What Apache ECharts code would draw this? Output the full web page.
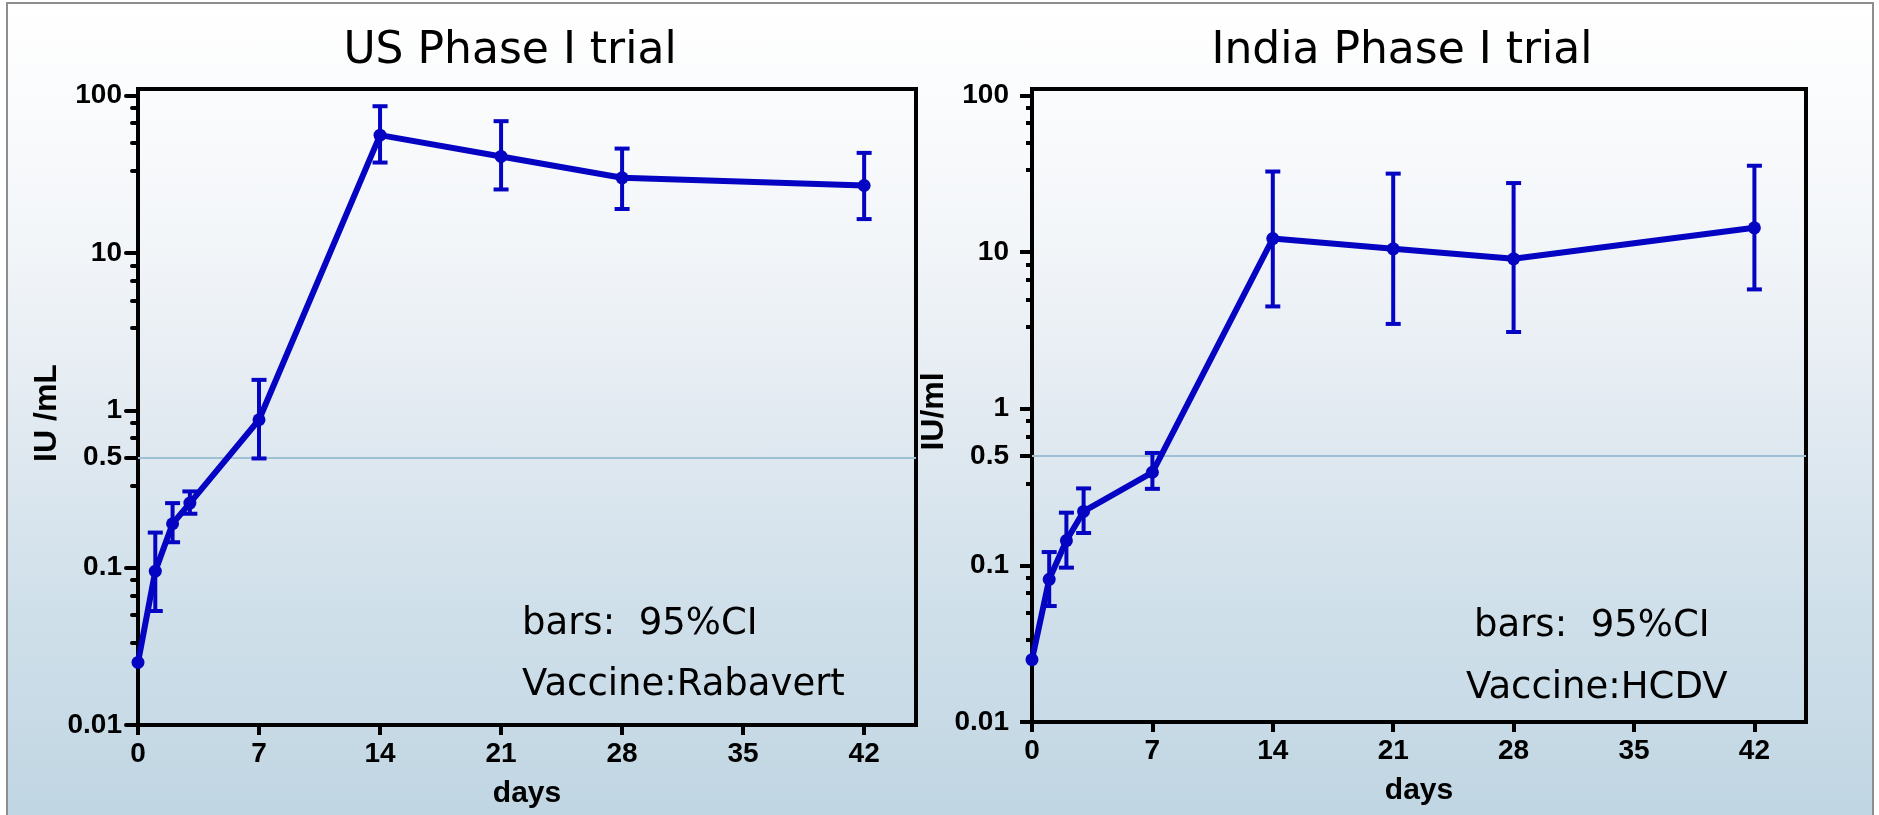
<!DOCTYPE html>
<html>
<head>
<meta charset="utf-8">
<title>Phase I trials</title>
<script src="https://cdn.jsdelivr.net/npm/echarts@6/dist/echarts.min.js"></script>
<style>
    html, body {
        margin: 0;
        padding: 0;
        background: #ffffff;
        overflow: hidden;
    }
    /* gradient panel with the thin grey frame */
    #panel {
        position: absolute;
        left: 6px;
        top: 2px;
        width: 1864px;
        height: 830px;
        border: 2px solid #8e8e8e;
        background: linear-gradient(to bottom, #ffffff 0%, #f3f6f9 28%, #e2eaf1 50%, #d0e0ea 72%, #bfd5e2 100%);
    }
    #main {
        position: absolute;
        left: 0;
        top: 0;
        width: 1879px;
        height: 815px;
    }
</style>
</head>
<body>
<div id="panel"></div>
<div id="main"></div>
<script>
    // days after first dose
    const days = [0, 1, 2, 3, 7, 14, 21, 28, 42];
    const dayTicks = [0, 7, 14, 21, 28, 35, 42];

    // US Phase I trial (Rabavert), IU/mL, geometric mean with 95% CI
    const usMean = [0.025, 0.095, 0.19, 0.257, 0.87, 56, 41, 30, 26.8];
    const usLow = [null, 0.053, 0.145, 0.22, 0.494, 37.5, 25.3, 19, 16.4];
    const usHigh = [null, 0.167, 0.257, 0.305, 1.56, 85.5, 68.7, 46, 43.2];

    // India Phase I trial (HCDV), IU/ml
    const inMean = [0.025, 0.0815, 0.144, 0.221, 0.393, 12.2, 10.5, 9.06, 14.3];
    const inLow = [null, 0.055, 0.0967, 0.161, 0.308, 4.5, 3.48, 3.09, 5.78];
    const inHigh = [null, 0.1216, 0.217, 0.31, 0.522, 32.7, 31.7, 27.6, 35.6];

    // y axis tick labels and the little ticks between them
    const majorTicks = [0.01, 0.1, 0.5, 1, 10, 100];
    const decades = [0.01, 0.1, 1, 10];
    const minorSteps = [8.333, 6.667, 5, 3.333];
    const protectiveLevel = 0.5;

    const lineColor = '#0404c2';
    const refColor = '#9fbfd5';
    const boldFont = 'Liberation Sans';
    const plainFont = 'DejaVu Sans';

    let minorTicks = [];
    decades.forEach(function (d) {
        minorSteps.forEach(function (s) {
            if (s !== 5 || d !== 0.1) minorTicks.push(+(d * s).toPrecision(4));
        });
    });

    function renderErrorBar(params, api) {
        const x = api.value(0);
        const lo = api.value(1);
        const hi = api.value(2);
        const top = api.coord([x, hi]);
        const bottom = api.coord([x, lo]);
        const w = 7.5;
        const style = {stroke: lineColor, lineWidth: 4, fill: null};
        return {
            type: 'group',
            children: [
                {type: 'line', shape: {x1: top[0], y1: top[1], x2: bottom[0], y2: bottom[1]}, style: style},
                {type: 'line', shape: {x1: top[0] - w, y1: top[1], x2: top[0] + w, y2: top[1]}, style: style},
                {type: 'line', shape: {x1: bottom[0] - w, y1: bottom[1], x2: bottom[0] + w, y2: bottom[1]}, style: style}
            ]
        };
    }

    function xAxisFor(g) {
        return {
            type: 'value',
            gridIndex: g,
            min: 0,
            max: 45,
            name: 'days',
            nameLocation: 'middle',
            nameGap: 54,
            nameTextStyle: {fontFamily: boldFont, fontWeight: 'bold', fontSize: 30, color: '#000'},
            axisLine: {show: true, onZero: false, lineStyle: {color: '#000', width: 4}},
            axisTick: {show: true, customValues: dayTicks, length: 10, lineStyle: {color: '#000', width: 4}},
            axisLabel: {
                customValues: dayTicks,
                margin: 15,
                fontFamily: boldFont,
                fontWeight: 'bold',
                fontSize: 28,
                color: '#000'
            },
            splitLine: {show: false}
        };
    }

    function yAxisFor(g, name, nameGap, margin, cap) {
        return {
            type: 'log',
            logBase: 10,
            gridIndex: g,
            position: 'left',
            min: 0.01,
            max: 110,
            name: name,
            nameLocation: 'middle',
            nameRotate: 90,
            nameGap: nameGap,
            nameTextStyle: {fontFamily: boldFont, fontWeight: 'bold', fontSize: 32, color: '#000', padding: [0, 12, 0, 0]},
            axisLine: {show: true, lineStyle: {color: '#000', width: 4}},
            axisTick: {show: true, customValues: majorTicks, length: 12, lineStyle: {color: '#000', width: 4, cap: cap}},
            axisLabel: {
                customValues: majorTicks,
                margin: margin,
                fontFamily: boldFont,
                fontWeight: 'bold',
                fontSize: 28,
                color: '#000',
                formatter: function (v) {
                    return String(Number(Number(v).toPrecision(2)));
                }
            },
            splitLine: {show: false}
        };
    }

    function minorAxisFor(g, cap) {
        return {
            type: 'log',
            logBase: 10,
            gridIndex: g,
            position: 'left',
            offset: 0,
            min: 0.01,
            max: 110,
            axisLine: {show: false},
            axisTick: {show: true, customValues: minorTicks, length: 6, lineStyle: {color: '#000', width: 4, cap: cap}},
            axisLabel: {show: false},
            splitLine: {show: false}
        };
    }

    function lineSeries(idx, mean) {
        return {
            type: 'line',
            xAxisIndex: idx,
            yAxisIndex: idx * 2,
            data: days.map(function (d, i) { return [d, mean[i]]; }),
            symbol: 'circle',
            symbolSize: 13,
            itemStyle: {color: lineColor},
            lineStyle: {color: lineColor, width: 6},
            z: 4,
            markLine: {
                silent: true,
                symbol: 'none',
                label: {show: false},
                lineStyle: {color: refColor, width: 2, type: 'solid'},
                data: [{yAxis: protectiveLevel}],
                z: 1
            }
        };
    }

    function barSeries(idx, low, high) {
        const rows = [];
        days.forEach(function (d, i) {
            if (low[i] != null) rows.push([d, low[i], high[i]]);
        });
        return {
            type: 'custom',
            xAxisIndex: idx,
            yAxisIndex: idx * 2,
            renderItem: renderErrorBar,
            encode: {x: 0, y: [1, 2]},
            data: rows,
            z: 3
        };
    }

    function label(text, x, y, size, align) {
        return {
            type: 'text',
            x: x,
            y: y,
            style: {
                text: text,
                fontFamily: plainFont,
                fontSize: size,
                fill: '#000',
                align: align,
                textAlign: align,
                verticalAlign: 'middle',
                textVerticalAlign: 'middle'
            }
        };
    }

    const chart = echarts.init(document.getElementById('main'), null, {renderer: 'canvas'});
    const option = {
        animation: false,
        backgroundColor: 'transparent',
        grid: [
            {left: 138, top: 89, width: 778, height: 636, show: true, borderColor: '#000', borderWidth: 4, backgroundColor: 'transparent'},
            {left: 1032, top: 89, width: 774, height: 633, show: true, borderColor: '#000', borderWidth: 4, backgroundColor: 'transparent'}
        ],
        xAxis: [xAxisFor(0), xAxisFor(1)],
        yAxis: [
            yAxisFor(0, 'IU /mL', 72, 16, 'round'),
            minorAxisFor(0, 'round'),
            yAxisFor(1, 'IU/ml', 62, 23, 'butt'),
            minorAxisFor(1, 'butt')
        ],
        graphic: [
            label('US Phase I trial', 510, 52, 44, 'center'),
            label('India Phase I trial', 1402, 52, 44, 'center'),
            label('bars:  95%CI', 522, 624, 37, 'left'),
            label('Vaccine:Rabavert', 522, 685, 37, 'left'),
            label('bars:  95%CI', 1474, 626, 37, 'left'),
            label('Vaccine:HCDV', 1466, 688, 37, 'left')
        ],
        series: [
            barSeries(0, usLow, usHigh),
            lineSeries(0, usMean),
            barSeries(1, inLow, inHigh),
            lineSeries(1, inMean)
        ]
    };
    chart.setOption(option);
</script>
</body>
</html>
